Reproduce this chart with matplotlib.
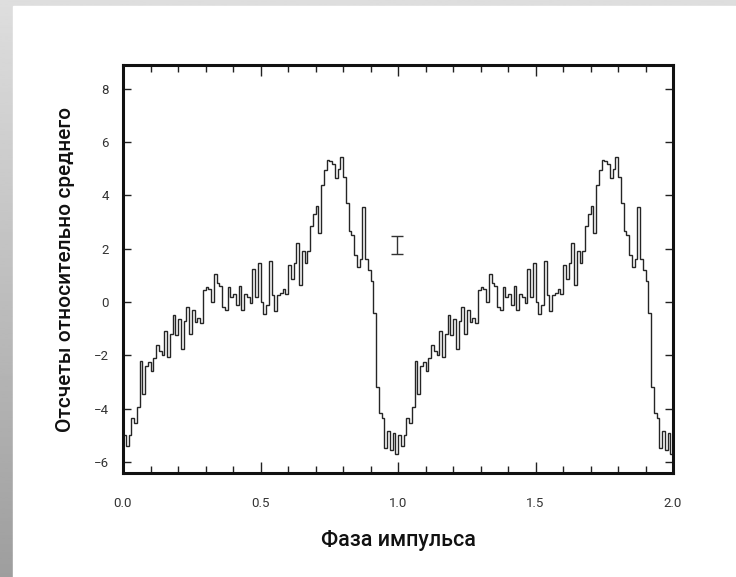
import numpy as np
import matplotlib
matplotlib.use("Agg")
import matplotlib.pyplot as plt
from matplotlib.patches import Rectangle
from matplotlib.ticker import MultipleLocator, FormatStrFormatter

# pulse profile, one period, 100 phase bins
profile = [
    -5.0, -5.4, -5.0, -4.35, -4.55, -3.95, -2.2, -3.45, -2.4, -2.25,
    -2.6, -2.1, -1.6, -1.85, -2.0, -1.1, -2.05, -1.2, -0.5, -1.25,
    -0.65, -1.75, -0.7, -0.2, -1.2, -0.3, -0.75, -0.6, -0.8, 0.45,
    0.55, 0.5, 0.0, 1.05, 0.7, 0.6, -0.2, -0.3, 0.55, 0.2,
    0.3, -0.1, 0.6, -0.3, 0.3, 0.2, -0.05, 1.25, 0.2, 1.45,
    0.0, -0.45, -0.1, 1.55, 0.25, -0.35, 0.25, 0.35, 0.5, 0.3,
    1.4, 0.85, 1.45, 2.2, 0.65, 1.9, 1.45, 1.9, 2.85, 3.3,
    3.6, 2.6, 4.4, 4.95, 5.35, 5.3, 5.2, 4.65, 5.0, 5.45,
    4.7, 3.7, 2.65, 2.5, 1.75, 1.3, 1.6, 3.55, 1.6, 1.2,
    0.8, -0.4, -3.2, -4.15, -4.35, -5.5, -4.85, -5.55, -4.9, -5.7,
]
n_periods = 2
err_phase = 0.995
err_value = 2.15
err_size = 0.33

xlabel = "Фаза импульса"
ylabel = "Отсчеты относительно среднего"

W, H = 736, 577
fig = plt.figure(figsize=(W / 100, H / 100), dpi=100)

# grey frame on the left and top like the screenshot
bg = fig.add_axes([0, 0, 1, 1], zorder=-10)
grad = np.linspace(0.87, 0.62, 200).reshape(-1, 1)
bg.imshow(grad, extent=[0, 1, 0, 1], aspect="auto", cmap="gray", vmin=0, vmax=1)
bg.add_patch(Rectangle((13 / W, 0), 1, 1 - 6 / H, color="white", transform=bg.transAxes))
bg.set_xlim(0, 1)
bg.set_ylim(0, 1)
bg.axis("off")

ax = fig.add_axes([123 / W, 1 - 473 / H, 550 / W, 408 / H])
ax.patch.set_alpha(0)

values = np.tile(profile, n_periods)
edges = np.linspace(0, n_periods, len(values) + 1)
ax.stairs(values, edges, color="#252525", lw=1.0)

ax.errorbar(err_phase, err_value, yerr=err_size, color="#333333", lw=1.0,
            capsize=4, capthick=1.0)

ax.set_xlim(0, 2)
ax.set_ylim(-6.42, 8.9)
ax.xaxis.set_major_locator(MultipleLocator(0.5))
ax.xaxis.set_minor_locator(MultipleLocator(0.1))
ax.xaxis.set_major_formatter(FormatStrFormatter("%.1f"))
ax.yaxis.set_major_locator(MultipleLocator(2))

ax.tick_params(which="both", direction="in", top=True, right=True,
               colors="#222222", labelcolor="#333333", labelsize=9.5, width=1.0)
ax.tick_params(axis="x", which="major", length=8, pad=17)
ax.tick_params(axis="x", which="minor", length=5)
ax.tick_params(axis="y", which="major", length=6, pad=10)
for lab in ax.get_xticklabels() + ax.get_yticklabels():
    lab.set_family("Roboto")

for sp in ax.spines.values():
    sp.set_linewidth(2.2)
    sp.set_color("#111111")

ax.set_xlabel(xlabel, family="Roboto", weight="medium", fontsize=15.5,
              color="#111111", labelpad=15)
ax.set_ylabel(ylabel, family="Roboto", weight="medium", fontsize=15,
              color="#111111", labelpad=14)

fig.savefig("out.png", dpi=100)
